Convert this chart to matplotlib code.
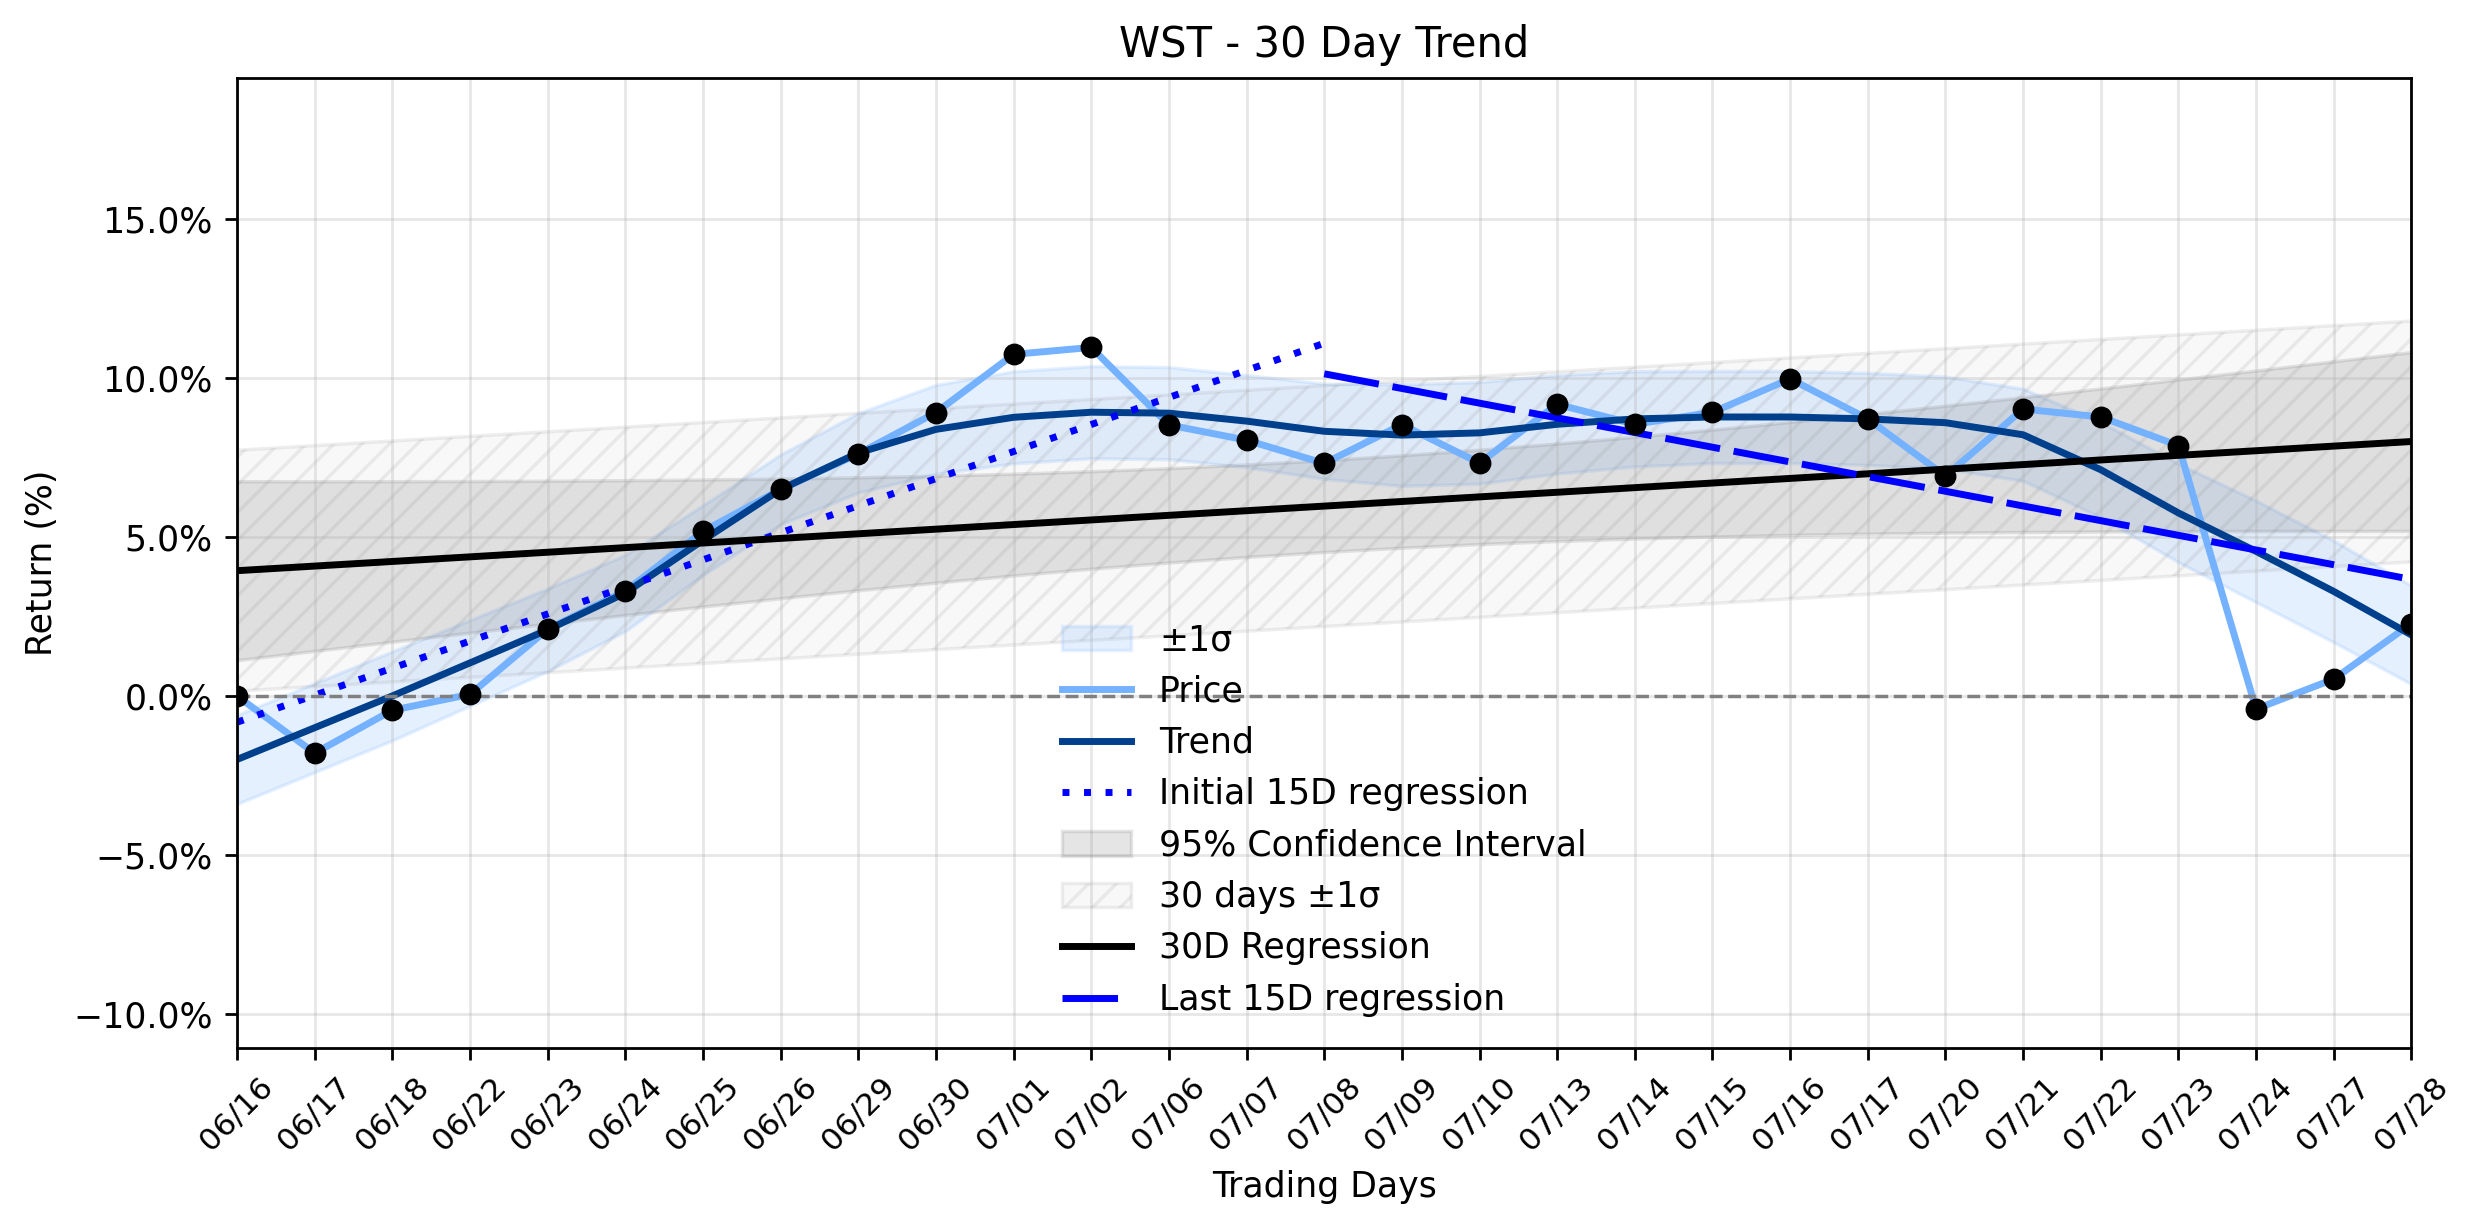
import matplotlib
matplotlib.use("Agg")
import matplotlib.pyplot as plt
import numpy as np
from matplotlib.ticker import PercentFormatter

# 交易日与数据
dates = ["06/16", "06/17", "06/18", "06/22", "06/23", "06/24", "06/25", "06/26",
         "06/29", "06/30", "07/01", "07/02", "07/06", "07/07", "07/08", "07/09",
         "07/10", "07/13", "07/14", "07/15", "07/16", "07/17", "07/20", "07/21",
         "07/22", "07/23", "07/24", "07/27", "07/28"]

price = [0.0, -1.8, -0.45, 0.05, 2.1, 3.3, 5.18, 6.5, 7.62, 8.92, 10.75, 10.97,
         8.53, 8.05, 7.32, 8.54, 7.33, 9.18, 8.55, 8.93, 9.98, 8.72, 6.92, 9.03,
         8.78, 7.88, -0.41, 0.53, 2.28]

trend = [-2.0, -1.0, 0.0, 1.04, 2.08, 3.24, 4.9, 6.5, 7.65, 8.39, 8.77, 8.93,
         8.9, 8.65, 8.33, 8.21, 8.28, 8.55, 8.72, 8.78, 8.78, 8.72, 8.6, 8.22,
         7.12, 5.76, 4.55, 3.29, 1.92]

trend_sigma = [1.4, 1.4, 1.4, 1.35, 1.3, 1.2, 1.1, 1.1, 1.25, 1.4, 1.45, 1.45,
               1.45, 1.45, 1.5, 1.6, 1.6, 1.55, 1.5, 1.45, 1.45, 1.45, 1.45, 1.45,
               1.5, 1.55, 1.6, 1.6, 1.55]

ticker = "WST"
T_975 = 2.052  # t 分布 0.975 分位数, 27 自由度

PRICE_COLOR = "#74b1ff"
TREND_COLOR = "#003f8c"

x = np.arange(len(dates))
p = np.array(price)
tr = np.array(trend)
sg = np.array(trend_sigma)

# 30 日线性回归
slope, intercept = np.polyfit(x, p, 1)
reg = slope * x + intercept
resid = p - reg
n = len(x)
se = np.sqrt(np.sum(resid ** 2) / (n - 2))
sxx = np.sum((x - x.mean()) ** 2)
ci = T_975 * se * np.sqrt(1.0 / n + (x - x.mean()) ** 2 / sxx)

# 前 15 日 / 后 15 日回归
half = 15
x1 = x[:half]
s1, b1 = np.polyfit(x1, p[:half], 1)
x2 = x[-half:]
s2, b2 = np.polyfit(x2, p[-half:], 1)

fig = plt.figure(figsize=(2474 / 250, 1224 / 250), dpi=250)
ax = fig.add_axes([0.0958, 0.1438, 0.8789, 0.7925])

ax.fill_between(x, tr - sg, tr + sg, color=PRICE_COLOR, alpha=0.18, label="±1σ")
ax.plot(x, p, color=PRICE_COLOR, lw=2, label="Price")
ax.plot(x, tr, color=TREND_COLOR, lw=2, label="Trend")
ax.plot(x1, s1 * x1 + b1, color="blue", lw=2, linestyle=(0, (1, 2.1)),
        label="Initial 15D regression")
ax.fill_between(x, reg - ci, reg + ci, color="gray", alpha=0.2,
                label="95% Confidence Interval")
ax.fill_between(x, reg - se, reg + se, facecolor=(0.5, 0.5, 0.5, 0.05),
                edgecolor=(0.5, 0.5, 0.5, 0.13), hatch="///", lw=1,
                label="30 days ±1σ")
ax.plot(x, reg, color="black", lw=2, label="30D Regression")
ax.plot(x2, s2 * x2 + b2, color="blue", lw=2, linestyle=(0, (8, 2)),
        label="Last 15D regression")
ax.scatter(x, p, color="black", s=28, zorder=5)
ax.axhline(0, color="gray", linestyle="--", lw=1)

ax.set_xlim(0, len(x) - 1)
ax.set_ylim(-11.08, 19.45)
ax.set_xticks(x)
ax.set_xticklabels(dates, rotation=45, fontsize=9)
ax.yaxis.set_major_formatter(PercentFormatter(decimals=1))
ax.grid(True, alpha=0.3)

ax.set_title(f"{ticker} - 30 Day Trend")
ax.set_xlabel("Trading Days")
ax.set_ylabel("Return (%)")
ax.legend(loc="lower center", frameon=False)

fig.savefig("out.png", dpi=250)
